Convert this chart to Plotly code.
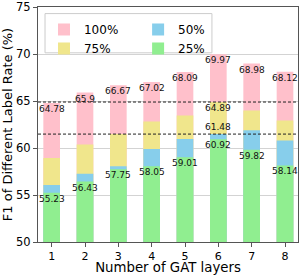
import plotly.graph_objects as go

layers = [1, 2, 3, 4, 5, 6, 7, 8]
rate_100 = [64.78, 65.90, 66.67, 67.02, 68.09, 69.97, 68.98, 68.12]
rate_75 = [58.94, 60.36, 61.48, 62.82, 63.46, 64.89, 63.99, 62.93]
rate_50 = [56.06, 57.25, 58.07, 59.90, 60.95, 61.48, 61.90, 60.81]
rate_25 = [55.23, 56.43, 57.75, 58.05, 59.01, 60.92, 59.82, 58.14]
y_ticks = [50, 55, 60, 65, 70, 75]

series = [
    ("100%", rate_100, "#FFC0CB", "legend"),
    ("75%", rate_75, "#F0E68C", "legend"),
    ("50%", rate_50, "#87CEEB", "legend2"),
    ("25%", rate_25, "#90EE90", "legend2"),
]

fig = go.Figure()
for name, vals, color, lg in series:
    fig.add_trace(go.Bar(
        x=layers, y=vals, name=name, width=0.5,
        marker=dict(color=color, line=dict(width=0)),
        legend=lg,
    ))

# value labels
best = rate_100.index(max(rate_100))
labels = [(rate_100, i, "top") for i in range(len(layers))]
labels += [(rate_25, i, "top") for i in range(len(layers))]
labels += [(rate_75, best, "top"), (rate_50, best, "bottom")]
for vals, i, anchor in labels:
    v = vals[i]
    fig.add_annotation(
        x=layers[i], y=v, text=f"{v:g}", showarrow=False,
        yanchor=anchor, xanchor="center", yshift=1 if anchor == "top" else 0,
        font=dict(family="DejaVu Sans", size=9, color="#111"),
    )

# reference dashed lines at best layer's 75% and 50%
for v in (rate_75[best], rate_50[best]):
    fig.add_hline(y=v, line=dict(color="#222", width=1, dash="3px,2px"), layer="above")

# legend frame
fig.add_shape(type="rect", xref="paper", yref="paper",
              x0=0.027, x1=0.669, y0=0.805, y1=0.972,
              line=dict(color="#cccccc", width=1), fillcolor="rgba(255,255,255,0.8)",
              layer="above")

fig.update_layout(
    width=300, height=275,
    margin=dict(l=38, r=2, t=7, b=33),
    barmode="overlay",
    plot_bgcolor="white", paper_bgcolor="white",
    font=dict(family="DejaVu Sans", color="black"),
    showlegend=True,
    legend=dict(x=0.023, y=0.966, xanchor="left", yanchor="top",
                bgcolor="rgba(0,0,0,0)", font=dict(size=12), tracegroupgap=0,
                itemwidth=30),
    legend2=dict(x=0.385, y=0.966, xanchor="left", yanchor="top",
                 bgcolor="rgba(0,0,0,0)", font=dict(size=12), tracegroupgap=0,
                 itemwidth=30),
)
fig.update_xaxes(
    range=[0.59, 8.39], tickmode="array", tickvals=layers,
    ticktext=[str(v) for v in layers],
    showgrid=False, showline=True, mirror=True, linecolor="#555", linewidth=1.2,
    ticks="outside", ticklen=4, tickcolor="#555", tickfont=dict(size=11),
    ticklabelstandoff=0, ticklabeloverflow="allow",
    title=dict(text="Number of GAT layers", font=dict(size=13.3), standoff=12),
    zeroline=False, automargin=False,
)
fig.update_yaxes(
    range=[50, 75], tickmode="array", tickvals=y_ticks,
    showgrid=True, gridcolor="#d3d3d3", gridwidth=1.2,
    showline=True, mirror=True, linecolor="#555", linewidth=1.2,
    ticks="outside", ticklen=4, tickcolor="#555", tickfont=dict(size=11.5),
    ticklabeloverflow="allow",
    title=dict(text="F1 of Different Label Rate (%)", font=dict(size=13), standoff=2),
    zeroline=False, automargin=False,
)

fig.write_html("out.html", config={"displayModeBar": False},
               post_script="document.body.style.margin='0';")
